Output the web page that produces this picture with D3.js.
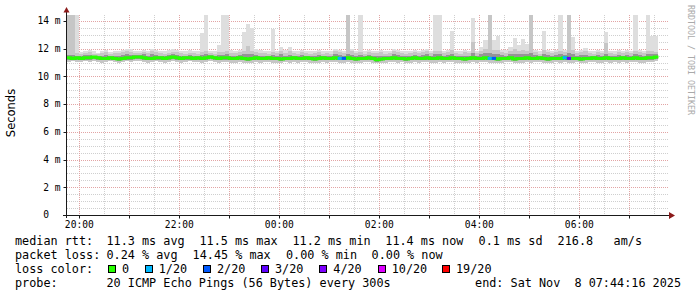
<!DOCTYPE html>
<html>
<head>
<meta charset="utf-8">
<script src="https://cdn.jsdelivr.net/npm/d3@7/dist/d3.min.js"></script>
<style>
  body { margin: 0; background: #fff; }
  text { font-family: "DejaVu Sans Mono", monospace; fill: #000; white-space: pre; }
</style>
</head>
<body>
<svg id="chart" width="697" height="297"></svg>
<script>
// time window and 5 minute steps
var graphStart = "2025-11-07T19:44:16";
var graphEnd = "2025-11-08T07:44:16";
var firstStep = "2025-11-07T19:45:00";

// median rtt per step (ms)
var median = [
  11.35, 11.30, 11.35, 11.30, 11.35, 11.35, 11.40, 11.35, 11.30, 11.30,
  11.35, 11.30, 11.25, 11.30, 11.35, 11.35, 11.40, 11.40, 11.35, 11.30,
  11.30, 11.35, 11.35, 11.30, 11.35, 11.40, 11.35, 11.30, 11.35, 11.35,
  11.30, 11.35, 11.30, 11.35, 11.40, 11.35, 11.30, 11.35, 11.35, 11.30,
  11.30, 11.35, 11.30, 11.25, 11.30, 11.35, 11.30, 11.30, 11.35, 11.30,
  11.30, 11.25, 11.30, 11.30, 11.35, 11.30, 11.30, 11.35, 11.30, 11.25,
  11.30, 11.35, 11.30, 11.30, 11.35, 11.30, 11.30, 11.35, 11.30, 11.25,
  11.30, 11.30, 11.35, 11.30, 11.20, 11.25, 11.30, 11.30, 11.35, 11.30,
  11.30, 11.25, 11.30, 11.35, 11.30, 11.30, 11.35, 11.30, 11.30, 11.35,
  11.30, 11.30, 11.35, 11.30, 11.30, 11.25, 11.30, 11.35, 11.30, 11.30,
  11.35, 11.30, 11.30, 11.25, 11.30, 11.30, 11.35, 11.25, 11.30, 11.30,
  11.35, 11.30, 11.30, 11.35, 11.30, 11.25, 11.30, 11.30, 11.30, 11.35,
  11.30, 11.30, 11.30, 11.25, 11.30, 11.30, 11.35, 11.30, 11.30, 11.35,
  11.30, 11.30, 11.30, 11.35, 11.30, 11.30, 11.35, 11.30, 11.30, 11.35,
  11.35, 11.40
];

// lost pings per step (out of 20)
var lossCount = [
  0, 0, 0, 0, 0, 0, 0, 0, 0, 0,
  0, 0, 0, 0, 0, 0, 0, 0, 0, 0,
  0, 0, 0, 0, 0, 0, 0, 0, 0, 0,
  0, 0, 0, 0, 0, 0, 0, 0, 0, 0,
  0, 0, 0, 0, 0, 0, 0, 0, 0, 0,
  0, 0, 0, 0, 0, 0, 0, 0, 0, 0,
  0, 0, 0, 0, 0, 1, 2, 0, 0, 0,
  0, 0, 0, 0, 0, 0, 0, 0, 0, 0,
  0, 0, 0, 0, 0, 0, 0, 0, 0, 0,
  0, 0, 0, 0, 0, 0, 0, 0, 0, 0,
  0, 1, 2, 0, 0, 0, 0, 0, 0, 0,
  0, 0, 0, 0, 0, 0, 0, 0, 0, 1,
  3, 0, 0, 0, 0, 0, 0, 0, 0, 0,
  0, 0, 0, 0, 0, 0, 0, 0, 0, 0,
  0, 0
];

// smoke: slowest ping per step
var pingMax = [
  14.5, 14.5, 14.5, 11.75, 11.8, 11.9, 11.8, 11.7, 11.85, 11.9,
  11.75, 11.8, 11.85, 11.9, 11.95, 11.95, 11.8, 11.85, 11.9, 11.85,
  11.95, 11.9, 11.85, 11.8, 11.9, 11.95, 11.9, 11.85, 11.8, 11.9,
  11.85, 11.8, 13.1, 14.5, 11.85, 11.8, 12.3, 14.5, 14.5, 11.9,
  11.85, 11.9, 13.2, 13.8, 13.5, 11.95, 11.9, 11.85, 11.8, 13.45,
  11.85, 12.1, 11.9, 12.1, 11.85, 11.8, 11.9, 11.85, 11.8, 11.85,
  11.9, 11.8, 11.85, 11.8, 12.0, 11.9, 11.85, 14.5, 12.0, 11.85,
  14.5, 11.8, 11.9, 11.85, 11.85, 11.9, 11.8, 11.85, 11.95, 11.9,
  11.85, 11.8, 11.85, 11.9, 11.85, 11.9, 11.95, 11.85, 14.5, 14.5,
  11.85, 11.9, 13.3, 11.85, 11.8, 11.9, 11.85, 14.2, 11.85, 12.1,
  12.6, 14.5, 12.6, 12.9, 11.9, 11.9, 12.1, 12.8, 12.3, 12.7,
  12.35, 14.5, 11.9, 11.8, 13.3, 11.9, 11.85, 11.9, 14.5, 11.9,
  14.5, 12.85, 11.85, 11.9, 12.05, 11.85, 11.8, 11.9, 11.85, 13.2,
  11.85, 11.8, 11.9, 11.85, 11.9, 11.85, 14.5, 11.9, 11.85, 14.5,
  12.9, 12.9
];

// smoke: second slowest pings
var pingHigh2 = [
  14.5, 14.5, 11.7, 11.65, 11.7, 11.75, 11.65, 11.6, 11.7, 11.75,
  11.65, 11.7, 11.7, 11.75, 11.8, 11.75, 11.7, 11.7, 11.75, 11.7,
  11.8, 11.75, 11.7, 11.65, 11.7, 11.75, 11.75, 11.7, 11.65, 11.7,
  11.7, 11.65, 11.75, 11.8, 11.7, 11.65, 11.75, 11.75, 11.8, 11.7,
  11.7, 11.75, 11.8, 12.2, 11.8, 11.75, 11.7, 11.7, 11.65, 11.75,
  11.7, 11.8, 11.7, 11.8, 11.7, 11.65, 11.75, 11.7, 11.65, 11.7,
  11.75, 11.65, 11.7, 11.65, 11.8, 11.75, 11.7, 14.5, 11.8, 11.7,
  11.75, 11.65, 11.75, 11.7, 11.7, 11.75, 11.65, 11.7, 11.8, 11.75,
  11.7, 11.65, 11.7, 11.75, 11.7, 11.75, 11.8, 11.7, 11.8, 11.85,
  11.7, 11.75, 11.9, 11.7, 11.65, 11.75, 11.7, 12.5, 11.7, 11.8,
  11.95, 14.5, 11.9, 11.9, 11.75, 11.7, 11.8, 11.95, 11.85, 11.9,
  11.85, 14.5, 11.75, 11.65, 11.9, 11.75, 11.7, 11.75, 11.85, 11.75,
  14.5, 11.9, 11.7, 11.75, 11.8, 11.7, 11.65, 11.75, 11.7, 12.4,
  11.7, 11.65, 11.75, 11.7, 11.75, 11.7, 11.85, 11.75, 11.7, 11.85,
  11.8, 11.75
];

// smoke: upper quartile
var pingHigh = [
  11.55, 11.55, 11.5, 11.5, 11.55, 11.55, 11.5, 11.45, 11.5, 11.55,
  11.5, 11.5, 11.5, 11.55, 11.6, 11.55, 11.55, 11.55, 11.6, 11.5,
  11.6, 11.55, 11.5, 11.5, 11.55, 11.6, 11.55, 11.5, 11.5, 11.55,
  11.5, 11.5, 11.55, 11.6, 11.55, 11.5, 11.55, 11.55, 11.6, 11.5,
  11.5, 11.55, 11.6, 11.65, 11.6, 11.55, 11.5, 11.5, 11.5, 11.55,
  11.5, 11.6, 11.5, 11.55, 11.5, 11.5, 11.55, 11.5, 11.45, 11.5,
  11.55, 11.5, 11.5, 11.5, 11.6, 11.55, 11.5, 11.65, 11.55, 11.5,
  11.55, 11.5, 11.55, 11.5, 11.45, 11.5, 11.5, 11.5, 11.6, 11.55,
  11.5, 11.45, 11.5, 11.55, 11.5, 11.55, 11.6, 11.5, 11.6, 11.6,
  11.5, 11.55, 11.65, 11.5, 11.5, 11.5, 11.5, 11.7, 11.5, 11.6,
  11.7, 11.7, 11.65, 11.6, 11.55, 11.5, 11.6, 11.65, 11.6, 11.65,
  11.6, 11.7, 11.55, 11.5, 11.65, 11.55, 11.5, 11.55, 11.6, 11.55,
  11.7, 11.65, 11.5, 11.55, 11.55, 11.5, 11.5, 11.55, 11.5, 11.65,
  11.5, 11.5, 11.55, 11.5, 11.55, 11.5, 11.6, 11.55, 11.5, 11.6,
  11.6, 11.6
];

// smoke: lower quartile
var pingLow = [
  11.2, 11.2, 11.2, 11.15, 11.2, 11.2, 11.25, 11.2, 11.15, 11.15,
  11.2, 11.15, 11.1, 11.15, 11.2, 11.2, 11.25, 11.25, 11.2, 11.15,
  11.15, 11.2, 11.2, 11.15, 11.2, 11.25, 11.2, 11.15, 11.2, 11.2,
  11.15, 11.2, 11.15, 11.2, 11.25, 11.2, 11.15, 11.2, 11.2, 11.15,
  11.15, 11.2, 11.15, 11.1, 11.15, 11.2, 11.15, 11.15, 11.2, 11.15,
  11.15, 11.1, 11.15, 11.15, 11.2, 11.15, 11.15, 11.2, 11.15, 11.1,
  11.15, 11.2, 11.15, 11.15, 11.2, 11.15, 11.15, 11.2, 11.15, 11.1,
  11.15, 11.15, 11.2, 11.15, 11.05, 11.1, 11.15, 11.15, 11.2, 11.15,
  11.15, 11.1, 11.15, 11.2, 11.15, 11.15, 11.2, 11.15, 11.15, 11.2,
  11.15, 11.15, 11.2, 11.15, 11.15, 11.1, 11.15, 11.2, 11.15, 11.15,
  11.2, 11.15, 11.15, 11.1, 11.15, 11.15, 11.2, 11.1, 11.15, 11.15,
  11.2, 11.15, 11.15, 11.2, 11.15, 11.1, 11.15, 11.15, 11.15, 11.2,
  11.15, 11.15, 11.15, 11.1, 11.15, 11.15, 11.2, 11.15, 11.15, 11.2,
  11.15, 11.15, 11.15, 11.2, 11.15, 11.15, 11.2, 11.15, 11.15, 11.2,
  11.2, 11.25
];

// smoke: fastest ping per step
var pingMin = [
  11.05, 11.1, 11.05, 11.05, 11.1, 11.05, 11.1, 11.05, 11.0, 11.05,
  11.1, 11.05, 11.0, 11.05, 11.1, 11.05, 11.1, 11.1, 11.05, 11.0,
  11.05, 11.1, 11.05, 11.0, 11.05, 11.1, 11.05, 11.0, 11.05, 11.1,
  11.05, 11.05, 11.0, 11.05, 11.1, 11.05, 11.0, 11.05, 11.05, 11.0,
  11.0, 11.05, 11.0, 10.95, 11.0, 11.05, 11.0, 11.05, 11.05, 11.0,
  11.0, 10.95, 11.05, 11.0, 11.05, 11.0, 11.05, 11.05, 11.0, 10.95,
  11.0, 11.05, 11.0, 11.05, 11.05, 11.0, 11.0, 11.05, 11.0, 10.95,
  11.0, 11.05, 11.05, 11.0, 10.95, 10.95, 11.0, 11.05, 11.05, 11.0,
  11.05, 11.0, 11.0, 11.05, 11.0, 11.05, 11.05, 11.0, 11.0, 11.05,
  11.0, 11.05, 11.05, 11.0, 11.0, 10.95, 11.0, 11.05, 11.0, 11.05,
  11.05, 11.0, 11.0, 10.95, 11.0, 11.05, 11.05, 10.95, 11.0, 11.0,
  11.05, 11.0, 11.05, 11.05, 11.0, 10.95, 11.0, 11.05, 11.0, 11.05,
  11.0, 11.0, 11.05, 10.95, 11.0, 11.05, 11.05, 11.0, 11.0, 11.05,
  11.0, 11.05, 11.0, 11.05, 11.0, 11.05, 11.05, 11.0, 11.0, 11.05,
  11.05, 11.1
];

var yTickValues = [0, 2, 4, 6, 8, 10, 12, 14];
var yTickLabels = ["0  ", "2 m", "4 m", "6 m", "8 m", "10 m", "12 m", "14 m"];
var xTickLabels = ["20:00", "22:00", "00:00", "02:00", "04:00", "06:00"];

var lossLevels = [0, 1, 2, 3, 4, 10, 19];
var lossLabels = ["0", "1/20", "2/20", "3/20", "4/20", "10/20", "19/20"];
var lossColors = ["#26ff00", "#00b8ff", "#0059ff", "#5e00ff", "#7e00ff", "#dd00ff", "#ff0000"];

var rttStats = ["11.3 ms avg", "11.5 ms max", "11.2 ms min", "11.4 ms now", "0.1 ms sd", "216.8", "am/s"];
var lossStats = ["0.24 % avg", "14.45 % max", "0.00 % min", "0.00 % now"];
var probeText = "20 ICMP Echo Pings (56 Bytes) every 300s";
var endText = "end: Sat Nov  8 07:44:16 2025";

// ---- layout ----
var plotLeft = 67, plotRight = 667, plotTop = 15, plotBottom = 215;
var parse = d3.utcParse("%Y-%m-%dT%H:%M:%S");
var t0 = parse(graphStart), t1 = parse(graphEnd), s0 = parse(firstStep);

var x = d3.scaleUtc().domain([t0, t1]).range([66.2, 666.2]);
var y = d3.scaleLinear().domain([0, 14.43]).range([plotBottom, plotTop]);

var svg = d3.select("#chart");
svg.append("rect").attr("width", 697).attr("height", 297).attr("fill", "#fff");

svg.append("clipPath").attr("id", "plotclip")
  .append("rect")
  .attr("x", plotLeft).attr("y", plotTop)
  .attr("width", plotRight - plotLeft).attr("height", plotBottom - plotTop);

var px = function(v) { return Math.round(v) + 0.5; };

// grid
var grid = svg.append("g").attr("stroke-width", 1).attr("stroke-dasharray", "1,1");
d3.range(0.5, 14.43, 0.5).filter(function(v) { return v % 2 != 0; }).forEach(function(v) {
  grid.append("line")
    .attr("x1", plotLeft).attr("x2", plotRight + 1)
    .attr("y1", px(y(v))).attr("y2", px(y(v)))
    .attr("stroke", "#cfcfcf");
});
d3.utcMinute.every(30).range(t0, t1).filter(function(t) { return t.getUTCMinutes() == 30; }).forEach(function(t) {
  grid.append("line")
    .attr("x1", px(x(t))).attr("x2", px(x(t)))
    .attr("y1", plotTop).attr("y2", plotBottom)
    .attr("stroke", "#cfcfcf");
});
yTickValues.slice(1).forEach(function(v) {
  grid.append("line")
    .attr("x1", plotLeft).attr("x2", plotRight + 1)
    .attr("y1", px(y(v))).attr("y2", px(y(v)))
    .attr("stroke", "#e2a4a4");
});
var hours = d3.utcHour.range(t0, t1);
hours.forEach(function(t) {
  grid.append("line")
    .attr("x1", px(x(t))).attr("x2", px(x(t)))
    .attr("y1", plotTop).attr("y2", plotBottom)
    .attr("stroke", "#e2a4a4");
});

// smoke
var steps = median.map(function(m, i) {
  return {
    start: d3.utcMinute.offset(s0, 5 * i),
    end: d3.utcMinute.offset(s0, 5 * (i + 1)),
    med: m, loss: lossCount[i],
    min: pingMin[i], low: pingLow[i], high: pingHigh[i], high2: pingHigh2[i], max: pingMax[i]
  };
});

var data = svg.append("g").attr("clip-path", "url(#plotclip)");
var layers = [
  {lo: "min", hi: "max", color: "#dedede"},
  {lo: "min", hi: "high2", color: "#c6c6c6"},
  {lo: "low", hi: "high", color: "#959595"}
];
layers.forEach(function(L) {
  data.append("g").selectAll("rect")
    .data(steps)
    .enter().append("rect")
    .attr("x", function(d) { return x(d.start); })
    .attr("width", function(d) { return x(d.end) - x(d.start); })
    .attr("y", function(d) { return y(d[L.hi]); })
    .attr("height", function(d) { return y(d[L.lo]) - y(d[L.hi]); })
    .attr("fill", L.color)
    .attr("shape-rendering", "crispEdges");
});

// median line
var pts = steps.map(function(d) { return [d.start, d.med]; });
pts.push([steps[steps.length - 1].end, steps[steps.length - 1].med]);
var line = d3.line()
  .x(function(d) { return x(d[0]); })
  .y(function(d) { return y(d[1]); })
  .curve(d3.curveStepAfter);
data.append("path")
  .attr("d", line(pts))
  .attr("fill", "none")
  .attr("stroke", lossColors[0])
  .attr("stroke-width", 3);

var lossColor = function(n) {
  var c = lossColors[0];
  lossLevels.forEach(function(l, k) { if (n >= l) c = lossColors[k]; });
  return c;
};
data.append("g").selectAll("rect")
  .data(steps.filter(function(d) { return d.loss > 0; }))
  .enter().append("rect")
  .attr("x", function(d) { return x(d.start); })
  .attr("width", function(d) { return x(d.end) - x(d.start); })
  .attr("y", function(d) { return y(d.med) - 1.5; })
  .attr("height", 3)
  .attr("fill", function(d) { return lossColor(d.loss); });

// axes
var axisColor = "#1a1a1a", arrowColor = "#8b1a1a";
svg.append("line").attr("x1", 66.5).attr("x2", 66.5).attr("y1", 218).attr("y2", 10)
  .attr("stroke", axisColor);
svg.append("line").attr("x1", 63).attr("x2", 670).attr("y1", 215.5).attr("y2", 215.5)
  .attr("stroke", axisColor);
svg.append("path").attr("d", "M63.5,12.5 L69.5,12.5 L66.5,7 Z").attr("fill", arrowColor);
svg.append("path").attr("d", "M669,212 L669,219 L675,215.5 Z").attr("fill", arrowColor);

yTickValues.slice(1).forEach(function(v) {
  svg.append("line").attr("x1", 63.5).attr("x2", 66.5)
    .attr("y1", px(y(v))).attr("y2", px(y(v))).attr("stroke", axisColor);
});
hours.forEach(function(t) {
  svg.append("line").attr("x1", px(x(t))).attr("x2", px(x(t)))
    .attr("y1", 215.5).attr("y2", 218.5).attr("stroke", axisColor);
});

svg.append("g").selectAll("text")
  .data(yTickValues)
  .enter().append("text")
  .attr("x", 60.5)
  .attr("y", function(v) { return y(v); })
  .attr("dy", "0.35em")
  .attr("text-anchor", "end")
  .style("font-size", "9.6px")
  .text(function(v, i) { return yTickLabels[i]; });

var labelTimes = d3.utcHour.every(2).range(t0, t1);
svg.append("g").selectAll("text")
  .data(labelTimes)
  .enter().append("text")
  .attr("x", function(t) { return x(t); })
  .attr("y", 224.5)
  .attr("dy", "0.35em")
  .attr("text-anchor", "middle")
  .style("font-size", "9.6px")
  .text(function(t, i) { return xTickLabels[i]; });

svg.append("text")
  .attr("transform", "translate(15,113) rotate(-90)")
  .attr("text-anchor", "middle")
  .style("font-family", "'DejaVu Sans', sans-serif")
  .style("font-size", "11.5px")
  .text("Seconds");

svg.append("text")
  .attr("transform", "translate(688,60) rotate(90)")
  .attr("text-anchor", "middle")
  .style("font-size", "8.3px")
  .style("fill", "#aaaaaa")
  .text("RRDTOOL / TOBI OETIKER");

// legend
var legend = svg.append("g").style("font-size", "11.8px");
var rowY = [245, 259, 273, 287];
legend.append("text").attr("x", 15).attr("y", rowY[0]).text("median rtt:");
var rttX = [106.5, 199.5, 292.5, 385.3, 478.6, 557.6, 613.6];
rttStats.forEach(function(s, i) {
  legend.append("text").attr("x", rttX[i]).attr("y", rowY[0]).text(s);
});
legend.append("text").attr("x", 15).attr("y", rowY[1]).text("packet loss:");
var lossX = [106.5, 192.6, 286, 371.6];
lossStats.forEach(function(s, i) {
  legend.append("text").attr("x", lossX[i]).attr("y", rowY[1]).text(s);
});
legend.append("text").attr("x", 15).attr("y", rowY[2]).text("loss color:");
var boxX = [108, 144.7, 203, 261, 319.3, 377.7, 442];
lossLabels.forEach(function(s, i) {
  legend.append("rect")
    .attr("x", Math.round(boxX[i]) + 0.5).attr("y", 265.5)
    .attr("width", 7).attr("height", 7)
    .attr("fill", lossColors[i]).attr("stroke", "#000");
  legend.append("text").attr("x", boxX[i] + 14).attr("y", rowY[2]).text(s);
});
legend.append("text").attr("x", 15).attr("y", rowY[3]).text("probe:");
legend.append("text").attr("x", 106.5).attr("y", rowY[3]).text(probeText);
legend.append("text").attr("x", 681).attr("y", rowY[3]).attr("text-anchor", "end").text(endText);
</script>
</body>
</html>
